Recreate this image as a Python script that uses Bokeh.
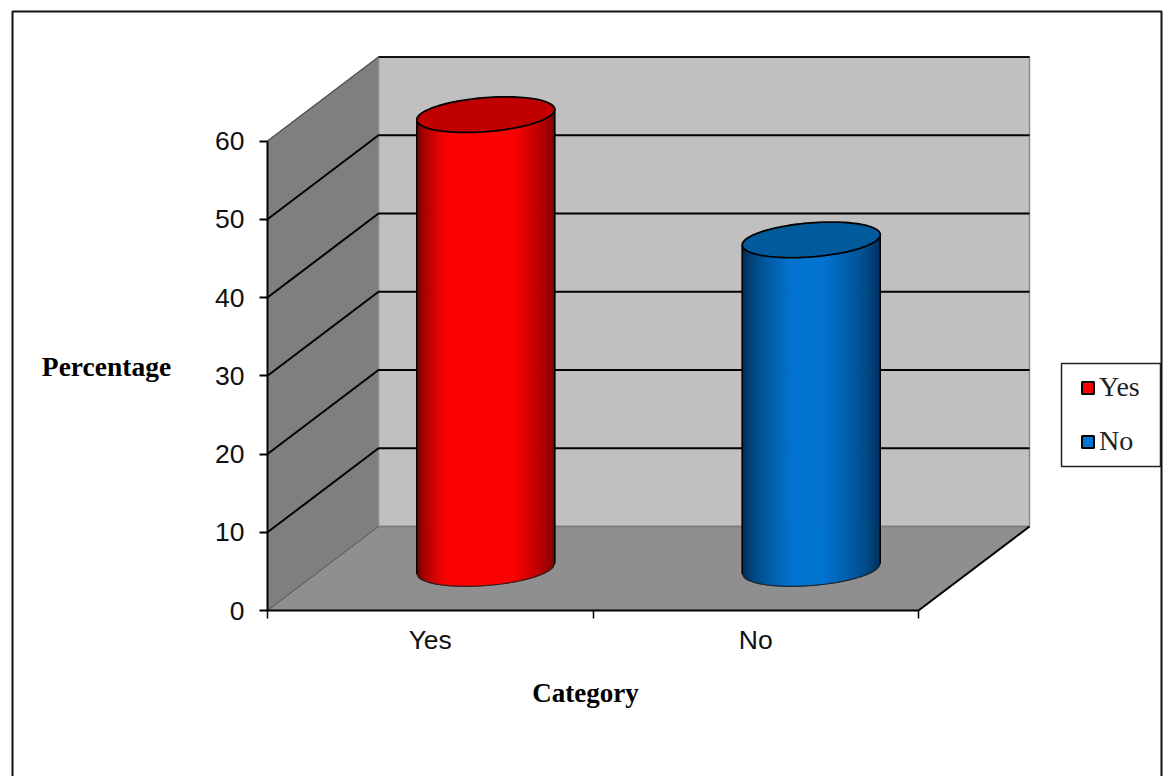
import numpy as np
from bokeh.embed import file_html
from bokeh.resources import INLINE
from bokeh.plotting import figure
from bokeh.models import (ColumnDataSource, FixedTicker, Label, Legend, LegendItem,
                          LinearAxis, Range1d)

# Survey shares shown as cylinders
categories = ["Yes", "No"]
percentages = [58, 42]
y_ticks = [0, 10, 20, 30, 40, 50, 60]
side_colors = ["#ff0000", "#0074d0"]
edge_colors = ["#680000", "#00284e"]
cap_colors = ["#c00000", "#005a9c"]
ramp_left = [0.32, 0.42]    # share of the width shaded on each side
ramp_right = [0.22, 0.36]

W, H = 1168, 776
ORIGIN_X, ORIGIN_Y = 267, 610   # page position of the zero corner
PX_X = 325.5   # pixels per category
PX_Y = 7.825   # pixels per percentage point
DEPTH_X = 111 / PX_X   # oblique offset of the back wall
DEPTH_Y = 84 / PX_Y
Y_MAX = 60

RADIUS = 69 / PX_X
CAP_SKEW = np.arctan2(20, 66)
CAP_RY = 17.8 / PX_Y


def page_x(px):
    """Data x for a page pixel column."""
    return (px - ORIGIN_X) / PX_X


def page_y(px):
    """Data y for a page pixel row."""
    return (ORIGIN_Y - px) / PX_Y


# The frame fills the whole page; the axes are pinned at the zero corner
p = figure(width=W, height=H, output_backend="svg", toolbar_location=None,
           x_range=Range1d(page_x(0), page_x(W)),
           y_range=Range1d(page_y(H), page_y(0)),
           x_axis_location=None, y_axis_location=None,
           min_border=0, min_border_left=0, min_border_right=0,
           min_border_top=0, min_border_bottom=0)
p.outline_line_color = None
p.grid.visible = False

x_end = len(categories)

# Page frame, open at the bottom edge
p.line([page_x(12), page_x(12), page_x(1161), page_x(1161)],
       [page_y(H + 10), page_y(11), page_y(11), page_y(H + 10)],
       line_color="#111111", line_width=2)

# Walls and floor of the box
p.patch([0, DEPTH_X, DEPTH_X, 0], [0, DEPTH_Y, DEPTH_Y + Y_MAX, Y_MAX],
        fill_color="#7f7f7f", line_color="#6e6e6e", line_width=1)
p.patch([DEPTH_X, x_end + DEPTH_X, x_end + DEPTH_X, DEPTH_X],
        [DEPTH_Y, DEPTH_Y, DEPTH_Y + Y_MAX, DEPTH_Y + Y_MAX],
        fill_color="#c0c0c0", line_color="#8a8a8a", line_width=1.5)
p.patch([0, x_end, x_end + DEPTH_X, DEPTH_X], [0, 0, DEPTH_Y, DEPTH_Y],
        fill_color="#8f8f8f", line_color=None)
p.line([0, DEPTH_X], [0, DEPTH_Y], line_color="#555555", line_width=1)
p.line([DEPTH_X, x_end + DEPTH_X], [DEPTH_Y, DEPTH_Y], line_color="#7a7a7a", line_width=1.5)
p.line([x_end, x_end + DEPTH_X], [0, DEPTH_Y], line_color="#000000", line_width=2)
p.line([DEPTH_X, x_end + DEPTH_X], [DEPTH_Y + Y_MAX] * 2, line_color="#111111", line_width=2)
p.line([0, DEPTH_X], [Y_MAX, DEPTH_Y + Y_MAX], line_color="#555555", line_width=1.5)

# Gridlines run along the side wall and across the back wall
for v in y_ticks[1:-1]:
    p.line([0, DEPTH_X, x_end + DEPTH_X], [v, DEPTH_Y + v, DEPTH_Y + v],
           line_color="#000000", line_width=2)


def shade(frac, edge, peak, left, right):
    """Colour across a cylinder: dark at both edges, flat in the middle."""
    e = np.array([int(edge[i:i + 2], 16) for i in (1, 3, 5)], float)
    c = np.array([int(peak[i:i + 2], 16) for i in (1, 3, 5)], float)
    t = min(np.clip(frac / left, 0, 1), np.clip((1 - frac) / right, 0, 1))
    rgb = e + (c - e) * t ** 0.6
    return "#%02x%02x%02x" % tuple(int(round(ch)) for ch in rgb)


swatches = []
for i, (name, val) in enumerate(zip(categories, percentages)):
    cx = i + 0.5 + DEPTH_X / 2
    y0 = DEPTH_Y / 2
    y1 = y0 + val

    # Lower arcs of the base and the cap, sampled evenly across the width
    fracs = np.linspace(0, 1, 70)
    u = -np.arccos(1 - 2 * fracs)
    xs_arc = cx + RADIUS * np.cos(u)
    arc = CAP_RY * np.sin(u + CAP_SKEW)

    xs, ys, colors = [], [], []
    for k in range(len(fracs) - 1):
        xs.append([xs_arc[k], xs_arc[k + 1], xs_arc[k + 1], xs_arc[k]])
        ys.append([y0 + arc[k], y0 + arc[k + 1], y1 + arc[k + 1], y1 + arc[k]])
        colors.append(shade((fracs[k] + fracs[k + 1]) / 2, edge_colors[i], side_colors[i],
                            ramp_left[i], ramp_right[i]))
    p.patches(xs, ys, fill_color=colors, line_color=colors, line_width=1)

    # Outline of the body
    p.line(xs_arc, y0 + arc, line_color="#222222", line_width=1.2)
    p.line([xs_arc[0], xs_arc[0]], [y0 + arc[0], y1 + arc[0]], line_color="#000000", line_width=1.5)
    p.line([xs_arc[-1], xs_arc[-1]], [y0 + arc[-1], y1 + arc[-1]], line_color="#000000", line_width=1.5)

    # Cap ellipse
    th = np.linspace(0, 2 * np.pi, 121)
    p.patch(cx + RADIUS * np.cos(th), y1 + CAP_RY * np.sin(th + CAP_SKEW),
            fill_color=cap_colors[i], line_color="#000000", line_width=1.8)

    # Row with no position that only supplies the legend swatch
    swatches.append(p.quad(source=ColumnDataSource(dict(left=[np.nan], right=[np.nan],
                                                        top=[np.nan], bottom=[np.nan])),
                           left="left", right="right", top="top", bottom="bottom",
                           fill_color=side_colors[i], line_color="#000000", line_width=2))

# Axes
yaxis = LinearAxis(fixed_location=0, bounds=(0, Y_MAX), ticker=FixedTicker(ticks=y_ticks))
yaxis.major_tick_out = 8
yaxis.major_tick_in = 0
yaxis.minor_tick_line_color = None
yaxis.axis_line_color = "#000000"
yaxis.axis_line_width = 2
yaxis.major_tick_line_color = "#000000"
yaxis.major_tick_line_width = 2
yaxis.major_label_text_font = "Liberation Sans"
yaxis.major_label_text_font_size = "26.5px"
yaxis.major_label_text_color = "#111111"
yaxis.major_label_standoff = 15
p.add_layout(yaxis, "left")

xaxis = LinearAxis(fixed_location=0, bounds=(0, x_end),
                   ticker=FixedTicker(ticks=[i + 0.5 for i in range(x_end)],
                                      minor_ticks=list(range(x_end + 1))))
xaxis.major_label_overrides = {i + 0.5: c for i, c in enumerate(categories)}
xaxis.major_tick_line_color = None
xaxis.major_tick_out = 0
xaxis.major_tick_in = 0
xaxis.minor_tick_out = 8
xaxis.minor_tick_in = 0
xaxis.minor_tick_line_color = "#000000"
xaxis.minor_tick_line_width = 1.5
xaxis.axis_line_color = "#000000"
xaxis.axis_line_width = 2
xaxis.major_label_text_font = "Liberation Sans"
xaxis.major_label_text_font_size = "26.5px"
xaxis.major_label_text_color = "#111111"
xaxis.major_label_standoff = 6
p.add_layout(xaxis, "below")

# Axis titles
p.add_layout(Label(x=page_x(106), y=page_y(366), text="Percentage",
                   text_font="Liberation Serif", text_font_style="bold",
                   text_font_size="27.5px", text_align="center", text_baseline="middle",
                   text_color="#000000"))
p.add_layout(Label(x=page_x(585), y=page_y(692), text="Category",
                   text_font="Liberation Serif", text_font_style="bold",
                   text_font_size="27px", text_align="center", text_baseline="middle",
                   text_color="#000000"))

# Legend box drawn separately so the rows can sit apart from its border
box_x = [page_x(1061), page_x(1160), page_x(1160), page_x(1061)]
box_y = [page_y(466), page_y(466), page_y(363), page_y(363)]
p.patch(box_x, box_y, fill_color="#ffffff", line_color="#222222", line_width=1.5)
legend = Legend(items=[LegendItem(label=c, renderers=[r]) for c, r in zip(categories, swatches)],
                location=(1080, H - 457), margin=0, padding=0, spacing=22,
                glyph_width=15, glyph_height=15, label_standoff=4,
                label_text_font="Liberation Serif", label_text_font_size="28px",
                label_text_color="#222222", border_line_color=None,
                background_fill_alpha=0)
p.add_layout(legend)

open("out.html", "w").write(file_html(p, INLINE))
